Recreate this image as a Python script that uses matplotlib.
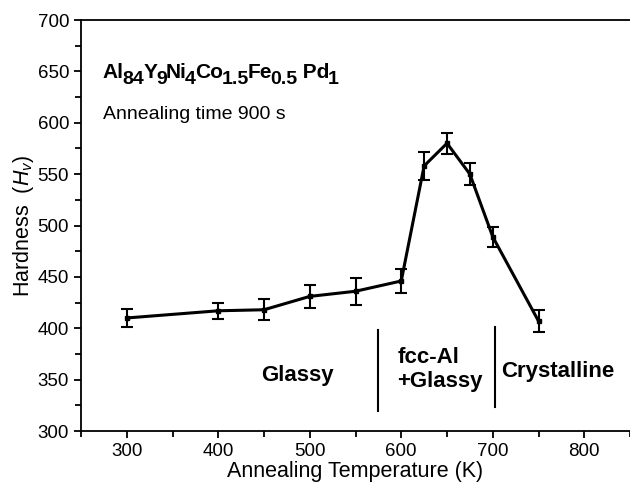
import numpy as np
import matplotlib
matplotlib.use('Agg')
import matplotlib.pyplot as plt
from matplotlib.ticker import MultipleLocator

plt.rcParams['font.family'] = ['Liberation Sans', 'DejaVu Sans']
plt.rcParams['mathtext.fontset'] = 'custom'
plt.rcParams['mathtext.rm'] = 'Liberation Sans'
plt.rcParams['mathtext.it'] = 'Liberation Sans:italic'
plt.rcParams['mathtext.bf'] = 'Liberation Sans:bold'

# 退火温度与硬度
temp = [300, 400, 450, 500, 550, 600, 625, 650, 675, 700, 750]
hardness = [410, 417, 418, 431, 436, 446, 558, 580, 550, 489, 407]
err = [9, 8, 10, 11, 13, 12, 14, 10, 11, 10, 11]

# 相区分界线
bound_x = [575, 702]
bound_lo = [319, 323]
bound_hi = [398, 401]

# 合金成分
elems = ['Al', 'Y', 'Ni', 'Co', 'Fe', ' Pd']
subs = ['84', '9', '4', '1.5', '0.5', '1']

fig = plt.figure(figsize=(6.3, 4.9), dpi=100)
ax = fig.add_axes([81/630, 59/490, 549/630, 411/490])

ax.errorbar(temp, hardness, yerr=err, color='black', lw=2.2, marker='s', ms=3,
            capsize=4, capthick=1.5, elinewidth=1.5)

for x, lo, hi in zip(bound_x, bound_lo, bound_hi):
    ax.plot([x, x], [lo, hi], color='black', lw=1.5)

ax.text(487, 354, 'Glassy', fontsize=16, fontweight='bold', ha='center', va='center')
ax.text(596, 360, 'fcc-Al\n+Glassy', fontsize=16, fontweight='bold', ha='left', va='center',
        linespacing=1.15)
ax.text(709, 358, 'Crystalline', fontsize=16, fontweight='bold', ha='left', va='center')

# 化学式：逐段拼接，下标字号较大
prev = ax.text(274, 640, elems[0], fontsize=15, fontweight='bold', ha='left', va='bottom')
for i in range(len(elems)):
    if i > 0:
        prev = ax.annotate(elems[i], xy=(1, 0), xycoords=prev, xytext=(-0.9, 4.5),
                           textcoords='offset points', fontsize=15, fontweight='bold',
                           ha='left', va='bottom')
    prev = ax.annotate(subs[i], xy=(1, 0), xycoords=prev, xytext=(-0.9, -4.5),
                       textcoords='offset points', fontsize=14, fontweight='bold',
                       ha='left', va='bottom')

ax.text(274, 608, 'Annealing time 900 s', fontsize=14, ha='left', va='center')

ax.set_xlim(250, 850)
ax.set_ylim(300, 700)
ax.xaxis.set_major_locator(MultipleLocator(100))
ax.xaxis.set_minor_locator(MultipleLocator(50))
ax.yaxis.set_major_locator(MultipleLocator(50))
ax.yaxis.set_minor_locator(MultipleLocator(25))
ax.tick_params(which='both', direction='out', width=1.3, labelsize=13.5)
ax.tick_params(which='major', length=5)
ax.tick_params(which='minor', length=4)
ax.spines['right'].set_visible(False)
for s in ['left', 'bottom', 'top']:
    ax.spines[s].set_linewidth(1.3)

ax.set_xlabel('Annealing Temperature (K)', fontsize=15.5, labelpad=1)
ax.set_ylabel(r'Hardness  ($\mathit{H}_{v}$)', fontsize=15.5, labelpad=1)

fig.savefig('out.png', dpi=100)
